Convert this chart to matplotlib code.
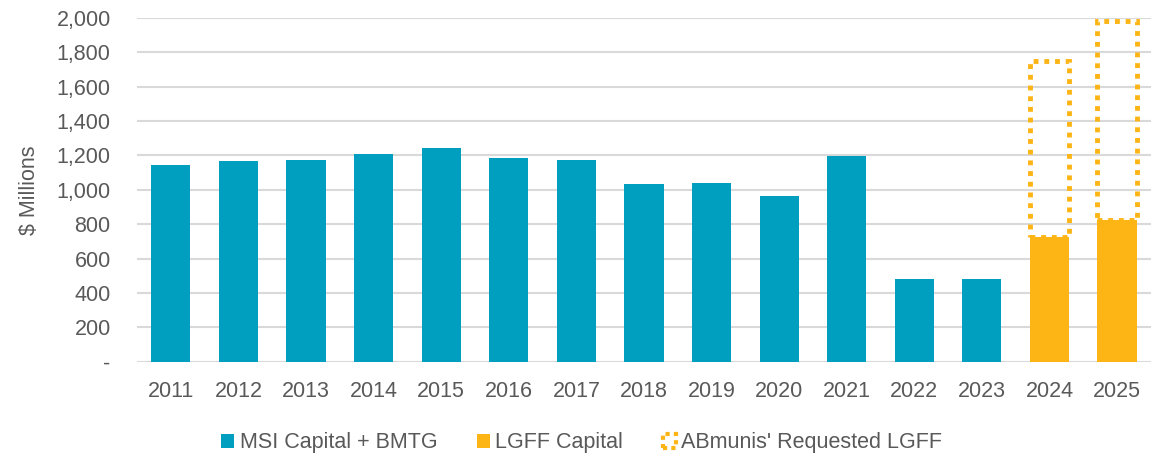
import matplotlib.pyplot as plt
from matplotlib.patches import Patch
from matplotlib.ticker import FuncFormatter
import numpy as np

years = ['2011','2012','2013','2014','2015','2016','2017','2018','2019','2020','2021','2022','2023','2024','2025']
msi_bmtg = [1145, 1169, 1174, 1209, 1244, 1186, 1174, 1032, 1041, 962, 1195, 483, 483, 0, 0]
lgff = [0, 0, 0, 0, 0, 0, 0, 0, 0, 0, 0, 0, 0, 727, 826]
requested_total = [0, 0, 0, 0, 0, 0, 0, 0, 0, 0, 0, 0, 0, 1750, 1980]

teal = '#009FC0'
gold = '#FDB515'
txt = '#595959'

plt.rcParams['font.family'] = ['Liberation Sans', 'DejaVu Sans']

fig = plt.figure(figsize=(11.52, 4.58), dpi=100)
ax = fig.add_axes([0.119, 0.21, 0.88, 0.751])

x = np.arange(len(years))
w = 0.58
ax.bar(x, msi_bmtg, w, color=teal, zorder=3, label='MSI Capital + BMTG')
ax.bar(x, lgff, w, color=gold, zorder=3, label='LGFF Capital')
extra = [r - l if r > 0 else 0 for r, l in zip(requested_total, lgff)]
ax.bar(x, extra, w, bottom=lgff, facecolor='none', edgecolor=[gold if e > 0 else (0, 0, 0, 0) for e in extra],
       linewidth=3.5, linestyle=(0, (1, 1.2)), zorder=4)

ax.set_xlim(-0.5, len(years) - 0.5)
ax.set_ylim(0, 2000)
ax.set_yticks(range(0, 2001, 200))
ax.yaxis.set_major_formatter(FuncFormatter(lambda v, p: '-' if v == 0 else f'{int(v):,}'))
ax.set_xticks(x)
ax.set_xticklabels(years)
ax.grid(axis='y', color='#D9D9D9', linewidth=1.5, zorder=0)
for s in ax.spines.values():
    s.set_visible(False)
ax.tick_params(axis='both', length=0, labelsize=15.5, colors=txt)
ax.tick_params(axis='x', pad=14)
ax.tick_params(axis='y', pad=19)
ax.set_ylabel('$ Millions', fontsize=15.5, color=txt, labelpad=12)

handles = [Patch(facecolor=teal, label='MSI Capital + BMTG'),
           Patch(facecolor=gold, label='LGFF Capital'),
           Patch(facecolor='none', edgecolor=gold, linestyle=(0, (1, 1)), linewidth=3,
                 label="ABmunis' Requested LGFF")]
leg = fig.legend(handles=handles, loc='center', bbox_to_anchor=(0.505, 0.033), ncol=3, frameon=False,
                 fontsize=15.5, handlelength=0.6, handleheight=0.6, handletextpad=0.25, columnspacing=1.85)
for t in leg.get_texts():
    t.set_color(txt)

fig.savefig('out.png', dpi=100)
